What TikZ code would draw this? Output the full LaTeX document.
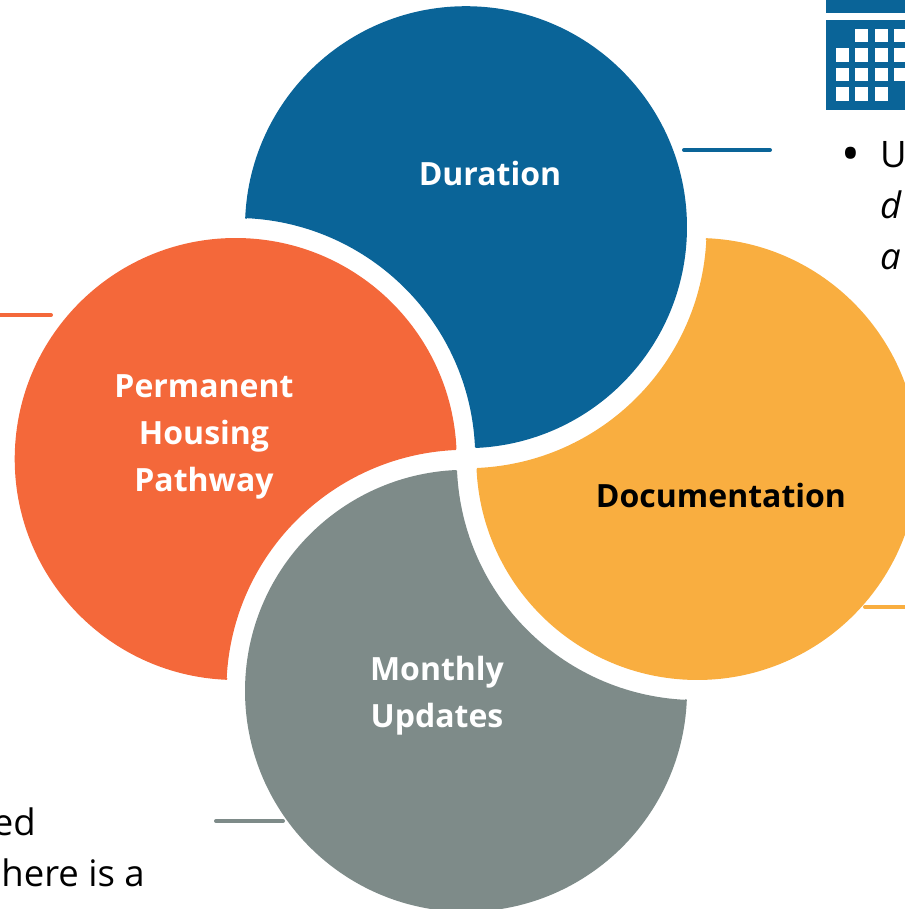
\documentclass[tikz,border=0pt]{standalone}
\usepackage{fontspec}
\setmainfont{Open Sans}
\definecolor{cblue}{HTML}{0A6498}
\definecolor{corange}{HTML}{F4683A}
\definecolor{cyellow}{HTML}{F9AE40}
\definecolor{cgray}{HTML}{7E8B89}
\tikzset{
  petal/.style={line width=2pt,line join=round},
  title/.style={font=\fontsize{32}{47}\selectfont\bfseries,align=center,text=white,inner sep=0pt},
  body/.style={font=\fontsize{36.5}{52}\selectfont,text=black,inner sep=0pt},
  leader/.style={line width=4pt,line cap=round},
  cell/.style={fill=white}
}
\newcommand{\petalpath}{(246.2,691) arc[start angle=177.6,end angle=-87.4,radius=220] arc[start angle=2.6,end angle=87.4,radius=241] -- cycle}
\begin{document}
\begin{tikzpicture}[x=1pt,y=1pt]
\useasboundingbox (0,0) rectangle (904,909);
% petals
\filldraw[petal,draw=cblue,fill=cblue] \petalpath;
\filldraw[petal,draw=corange,fill=corange,xshift=1.5pt,rotate around={90:(466,450)}] \petalpath;
\filldraw[petal,draw=cgray,fill=cgray,rotate around={180:(466,450)}] \petalpath;
\filldraw[petal,draw=cyellow,fill=cyellow,xshift=-0.5pt,rotate around={270:(466,450)}] \petalpath;
% titles
\node[title] (duration) at (490,735) {Duration};
\node[title] (pathway) at (204,472) {Permanent\\Housing\\Pathway};
\node[title,text=black] (documentation) at (721,413) {Documentation};
\node[title] (monthly) at (437,213) {Monthly\\Updates};
% leaders
\coordinate (l1a) at (684,759); \coordinate (l1b) at (770,759);
\coordinate (l2a) at (-3,594); \coordinate (l2b) at (51,594);
\coordinate (l3a) at (865,302); \coordinate (l3b) at (910,302);
\coordinate (l4a) at (216,88); \coordinate (l4b) at (283,88);
\draw[leader,cblue] (l1a) -- (l1b);
\draw[leader,corange] (l2a) -- (l2b);
\draw[leader,cyellow] (l3a) -- (l3b);
\draw[leader,cgray] (l4a) -- (l4b);
% calendar
\fill[cblue] (826,896) rectangle (910,909);
\fill[cblue] (826,799) rectangle (910,889);
\foreach \c/\r in {2/1,3/1,4/1,1/2,2/2,3/2,4/2,1/3,2/3,3/3,4/3,1/4,2/4,3/4}{
  \fill[cell] ({836+(\c-1)*19.3},{880-(\r-1)*19.4}) rectangle ++(13,-13.5);
}
% body text
\node[body,font=\fontsize{50}{52}\selectfont,anchor=base west] (bullet) at (841,737) {•};
\node[body,anchor=base west] (t1) at (880,741) {U};
\node[body,anchor=base west] (t2) at (880,690) {\itshape d};
\node[body,anchor=base west] (t3) at (880,639) {\itshape a};
\node[body,anchor=base east] (t4) at (36,73) {ed};
\node[body,anchor=base east] (t5) at (145,22) {here is a};
\end{tikzpicture}
\end{document}
